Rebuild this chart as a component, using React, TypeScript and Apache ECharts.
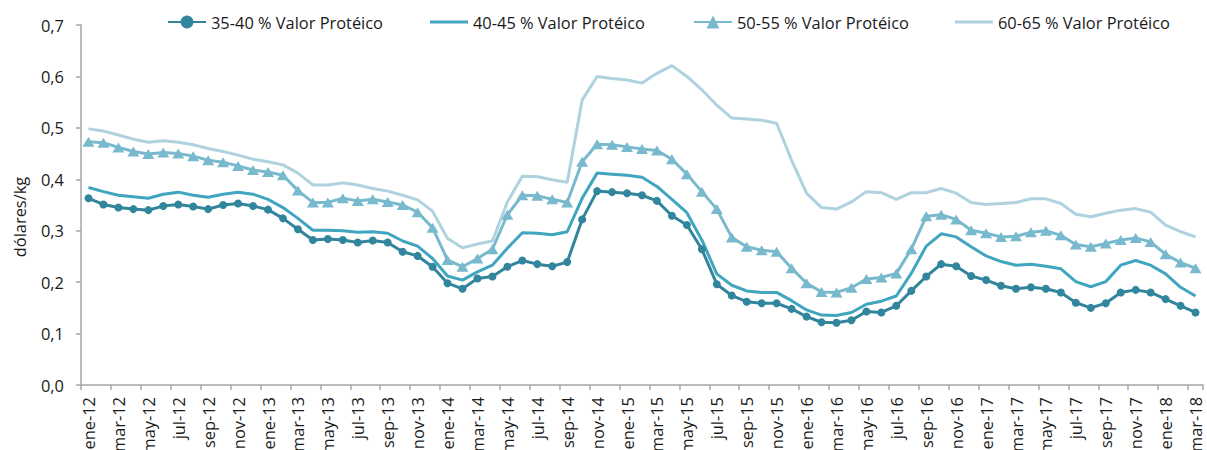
import React, { useEffect, useRef } from "react";
import * as echarts from "echarts";

const monthAbbr = ["ene", "feb", "mar", "abr", "may", "jun", "jul", "ago", "sep", "oct", "nov", "dic"];
const years = ["12", "13", "14", "15", "16", "17", "18"];
const categories: string[] = [];
years.forEach((y, yi) => {
  monthAbbr.forEach((m, mi) => {
    if (yi === years.length - 1 && mi > 2) return;
    categories.push(`${m}-${y}`);
  });
});

const seriesNames = [
  "35-40 % Valor Protéico",
  "40-45 % Valor Protéico",
  "50-55 % Valor Protéico",
  "60-65 % Valor Protéico",
];

const s3540 = [
  0.363, 0.351, 0.345, 0.342, 0.340, 0.348, 0.351, 0.347, 0.342, 0.350, 0.353, 0.348,
  0.341, 0.324, 0.303, 0.282, 0.284, 0.282, 0.277, 0.281, 0.277, 0.259, 0.251, 0.230,
  0.198, 0.187, 0.207, 0.211, 0.230, 0.242, 0.235, 0.231, 0.239, 0.322, 0.377, 0.375,
  0.373, 0.369, 0.358, 0.329, 0.311, 0.264, 0.196, 0.174, 0.162, 0.159, 0.159, 0.148,
  0.133, 0.122, 0.121, 0.126, 0.143, 0.141, 0.154, 0.183, 0.211, 0.235, 0.231, 0.212,
  0.204, 0.193, 0.187, 0.190, 0.187, 0.180, 0.160, 0.150, 0.159, 0.180, 0.185, 0.180,
  0.167, 0.154, 0.141,
];

const s4045 = [
  0.384, 0.376, 0.369, 0.366, 0.363, 0.371, 0.375, 0.369, 0.365, 0.371, 0.375, 0.371,
  0.361, 0.345, 0.324, 0.301, 0.301, 0.300, 0.297, 0.298, 0.295, 0.280, 0.270, 0.246,
  0.212, 0.204, 0.220, 0.233, 0.266, 0.296, 0.295, 0.292, 0.298, 0.363, 0.412, 0.410,
  0.408, 0.404, 0.386, 0.361, 0.335, 0.282, 0.216, 0.194, 0.183, 0.180, 0.180, 0.164,
  0.146, 0.136, 0.135, 0.141, 0.157, 0.163, 0.173, 0.217, 0.270, 0.294, 0.288, 0.269,
  0.251, 0.240, 0.233, 0.235, 0.231, 0.226, 0.201, 0.191, 0.201, 0.233, 0.242, 0.233,
  0.216, 0.190, 0.173,
];

const s5055 = [
  0.473, 0.471, 0.462, 0.454, 0.449, 0.452, 0.450, 0.445, 0.437, 0.433, 0.426, 0.418,
  0.414, 0.408, 0.378, 0.355, 0.355, 0.363, 0.358, 0.361, 0.356, 0.350, 0.336, 0.306,
  0.243, 0.230, 0.246, 0.264, 0.331, 0.369, 0.368, 0.361, 0.355, 0.434, 0.468, 0.467,
  0.463, 0.459, 0.456, 0.439, 0.410, 0.376, 0.342, 0.287, 0.269, 0.262, 0.259, 0.227,
  0.198, 0.181, 0.180, 0.189, 0.206, 0.209, 0.217, 0.264, 0.328, 0.331, 0.322, 0.301,
  0.295, 0.288, 0.289, 0.297, 0.300, 0.291, 0.273, 0.269, 0.275, 0.282, 0.286, 0.278,
  0.254, 0.238, 0.227,
];

const s6065 = [
  0.498, 0.494, 0.486, 0.478, 0.472, 0.475, 0.472, 0.467, 0.460, 0.454, 0.447, 0.439,
  0.434, 0.428, 0.412, 0.389, 0.389, 0.393, 0.389, 0.382, 0.377, 0.369, 0.360, 0.338,
  0.285, 0.267, 0.274, 0.280, 0.356, 0.406, 0.405, 0.399, 0.394, 0.554, 0.600, 0.596,
  0.593, 0.587, 0.606, 0.621, 0.600, 0.574, 0.544, 0.519, 0.517, 0.515, 0.509, 0.437,
  0.373, 0.345, 0.342, 0.356, 0.376, 0.374, 0.361, 0.374, 0.374, 0.382, 0.373, 0.355,
  0.351, 0.353, 0.355, 0.362, 0.362, 0.353, 0.332, 0.327, 0.334, 0.340, 0.343, 0.336,
  0.311, 0.298, 0.288,
];

const colors = ["#31859C", "#40A5BF", "#78B9CE", "#AED2DE"];
const FONT = "'Open Sans', 'Noto Sans', sans-serif";
const FS = 16.4;
const TXT = "#1a1a1a";
const AX = "#a6a6a6";

export default function App() {
  const ref = useRef<HTMLDivElement>(null);
  useEffect(() => {
    if (!ref.current) return;
    const chart = echarts.init(ref.current, undefined, { renderer: "svg" });
    const legendLefts = [167, 430, 693, 955];
    const data = [s3540, s4045, s5055, s6065];
    const symbols = ["circle", "none", "triangle", "none"];
    const symbolSizes: any[] = [8, 0, [12, 10], 0];
    chart.setOption({
      animation: false,
      backgroundColor: "#ffffff",
      textStyle: { fontFamily: FONT },
      grid: { left: 81, top: 25, right: 4, bottom: 65, containLabel: false, outerBoundsMode: "none" },
      legend: seriesNames.map((n, i) => {
        const plain = symbols[i] === "none";
        return {
          data: [plain ? { name: n, icon: "rect" } : { name: n }],
          left: legendLefts[i],
          top: 12,
          itemWidth: 38,
          itemHeight: plain ? 3 : 16,
          itemGap: 0,
          padding: 0,
          textStyle: { fontFamily: FONT, fontSize: FS, color: TXT, lineHeight: 20 },
          selectedMode: false,
        };
      }),
      xAxis: {
        type: "category",
        data: categories,
        boundaryGap: true,
        axisLine: { lineStyle: { color: AX, width: 1.5 } },
        axisTick: { show: true, interval: 1, length: 5, lineStyle: { color: AX, width: 1.5 } },
        axisLabel: {
          interval: 1,
          rotate: 90,
          margin: 12,
          fontFamily: FONT,
          fontSize: FS,
          color: TXT,
        },
        splitLine: { show: false },
      },
      yAxis: {
        type: "value",
        min: 0,
        max: 0.7,
        interval: 0.1,
        axisLine: { show: true, lineStyle: { color: AX, width: 1.5 } },
        axisTick: { show: true, length: 5, lineStyle: { color: AX, width: 1.5 } },
        axisLabel: {
          margin: 17,
          fontFamily: FONT,
          fontSize: FS,
          color: TXT,
          formatter: (v: number) => v.toFixed(1).replace(".", ","),
        },
        splitLine: { show: false },
      },
      graphic: [
        {
          type: "text",
          x: 19,
          y: 217,
          rotation: Math.PI / 2,
          style: {
            text: "dólares/kg",
            fontFamily: FONT,
            fontSize: FS,
            fill: TXT,
            align: "center",
            verticalAlign: "middle",
          },
        },
      ],
      series: seriesNames.map((n, i) => ({
        name: n,
        type: "line",
        data: data[i],
        symbol: symbols[i],
        symbolSize: symbolSizes[i],
        showSymbol: symbols[i] !== "none",
        showAllSymbol: true,
        lineStyle: { color: colors[i], width: 3 },
        itemStyle: { color: colors[i], borderWidth: 0 },
        z: 10 - i,
      })),
    });
    return () => chart.dispose();
  }, []);
  return (
    <div
      ref={ref}
      style={{ position: "fixed", left: 0, top: 0, width: 1207, height: 450, background: "#fff" }}
    />
  );
}
